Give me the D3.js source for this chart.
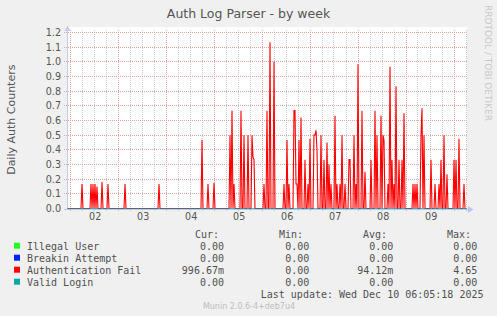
<!DOCTYPE html>
<html><head><meta charset="utf-8">
<script src="https://cdn.jsdelivr.net/npm/d3@7"></script>
<style>
html,body{margin:0;padding:0;background:#f0f0f0;}
svg{display:block;}
</style></head><body>
<svg id="chart" width="497" height="316"></svg>
<script>
const title = "Auth Log Parser - by week";
const yAxisTitle = "Daily Auth Counters";
const watermark = "RRDTOOL / TOBI OETIKER";
const footer = "Munin 2.0.6-4+deb7u4";
const lastUpdate = "Last update: Wed Dec 10 06:05:18 2025";

const seriesNames = ["Illegal User", "Breakin Attempt", "Authentication Fail", "Valid Login"];
const seriesColors = ["#22ff22", "#0022ff", "#ff0000", "#00a8a8"];
const statHeaders = ["Cur:", "Min:", "Avg:", "Max:"];
const statCur = ["0.00", "0.00", "996.67m", "0.00"];
const statMin = ["0.00", "0.00", "0.00", "0.00"];
const statAvg = ["0.00", "0.00", "94.12m", "0.00"];
const statMax = ["0.00", "0.00", "4.65", "0.00"];

const yTickValues = [0, 0.1, 0.2, 0.3, 0.4, 0.5, 0.6, 0.7, 0.8, 0.9, 1.0, 1.1, 1.2];
const yTickLabels = ["0.0", "0.1", "0.2", "0.3", "0.4", "0.5", "0.6", "0.7", "0.8", "0.9", "1.0", "1.1", "1.2"];
const dayTickTimes = ["2025-12-02T12:00:00Z", "2025-12-03T12:00:00Z", "2025-12-04T12:00:00Z", "2025-12-05T12:00:00Z",
                      "2025-12-06T12:00:00Z", "2025-12-07T12:00:00Z", "2025-12-08T12:00:00Z", "2025-12-09T12:00:00Z"];
const dayTickLabels = ["02", "03", "04", "05", "06", "07", "08", "09"];

const windowStart = "2025-12-01T22:30:00Z";
const windowEnd = "2025-12-10T06:30:00Z";
const sampleMinutes = 30;

// Authentication Fail, one value per 30-minute sample from windowStart
const authFail = [
  0,0,0,0,0,0,0,0,0,0,0,0,0,0,0,0.167,0,0,0,0,
  0,0,0,0,0.167,0,0.167,0,0.167,0,0.15,0,0,0,0,0.18,0,0,0,0,
  0,0.167,0,0,0,0,0,0,0,0,0,0,0,0,0,0,0,0,0.167,0,
  0,0,0,0,0,0,0,0,0,0,0,0,0,0,0,0,0,0,0,0,
  0,0,0,0,0,0,0,0,0,0,0,0,0.167,0,0,0,0,0,0,0,
  0,0,0,0,0,0,0,0,0,0,0,0,0,0,0,0,0,0,0,0,
  0,0,0,0,0,0,0,0,0,0,0,0,0,0,0,0.467,0,0,0,0,
  0,0.167,0,0,0,0,0,0.175,0,0,0,0,0,0,0,0,0,0,0,0,
  0,0,0,0.5,0,0.667,0,0.167,0,0,0,0,0,0,0.667,0,0,0.5,0,0,
  0,0.5,0,0,0,0.5,0.35,0.333,0,0,0,0,0,0,0,0,0,0.167,0,0,
  0.667,0,0,1.133,0,0,0,1.0,0,0,0,0,0,0,0,0,0,0.167,0,0,
  0.467,0,0.167,0,0,0,0,0.667,0.667,0.167,0.167,0,0.467,0,0.62,0,0,0,0.333,0,
  0,0.167,0,0.475,0,0,0,0.5,0.5,0.533,0.4,0,0,0,0.5,0,0,0.333,0,0,
  0.45,0,0.3,0,0.167,0,0,0,0.633,0,0.167,0,0,0.167,0,0.5,0,0,0.167,0,
  0,0,0.333,0.333,0,0,0,0.5,0,0.167,0,0.983,0,0,0,0.667,0,0,0.25,0,
  0,0,0,0,0.333,0,0,0,0.667,0,0.5,0,0,0,0.633,0,0.5,0.467,0,0,
  0,0.167,0,0.967,0,0.333,0,0.167,0,0.833,0,0,0.333,0,0,0.333,0,0.65,0,0,
  0,0,0,0,0,0,0.167,0,0.167,0,0.167,0,0,0,0.5,0.683,0,0.5,0,0,
  0,0,0,0,0.333,0,0,0,0.167,0,0,0,0.167,0,0.333,0,0,0.5,0,0,
  0.233,0,0,0,0,0,0,0.333,0,0.333,0,0,0.475,0,0,0,0,0.167,0,0
];
// Zero series: value at window start and window end
const illegalUser = [0, 0];
const breakinAttempt = [0, 0];
const validLogin = [0, 0];

// ---------- drawing ----------
const svg = d3.select("#chart");
const font = "DejaVu Sans, Verdana, sans-serif";
const mono = "DejaVu Sans Mono, monospace";
const plotL = 67, plotR = 467, plotTop = 27, y0px = 208.5, y12px = 32.5;

const t0 = new Date(windowStart), t1 = new Date(windowEnd);
const x = d3.scaleUtc().domain([t0, t1]).range([plotL, plotR]);
const y = d3.scaleLinear().domain([0, 1.2]).range([y0px, y12px]);
const px = v => Math.round(v - 0.5) + 0.5;

svg.append("rect").attr("width", 497).attr("height", 316).attr("fill", "#f0f0f0");
svg.append("rect").attr("x", plotL).attr("y", plotTop).attr("width", plotR - plotL).attr("height", 209 - plotTop).attr("fill", "#ffffff");

// minor vertical grid (6h)
const minor = d3.utcHour.every(6).range(t0, t1).filter(d => d.getUTCHours() !== 0);
svg.append("g").selectAll("line").data(minor).join("line")
  .attr("x1", d => px(x(d))).attr("x2", d => px(x(d)))
  .attr("y1", 30).attr("y2", 211)
  .attr("stroke", "#c9c9c9").attr("stroke-width", 1).attr("stroke-dasharray", "1,1");
// major vertical grid (days)
const major = d3.utcDay.range(t0, t1);
svg.append("g").selectAll("line").data(major).join("line")
  .attr("x1", d => px(x(d))).attr("x2", d => px(x(d)))
  .attr("y1", 30).attr("y2", 212)
  .attr("stroke", "#eba3a3").attr("stroke-width", 1).attr("stroke-dasharray", "1,1");
// horizontal grid
svg.append("g").selectAll("line").data(yTickValues.slice(1)).join("line")
  .attr("x1", 64).attr("x2", plotR)
  .attr("y1", d => px(y(d))).attr("y2", d => px(y(d)))
  .attr("stroke", "#eba3a3").attr("stroke-width", 1).attr("stroke-dasharray", "1,1");

// y axis labels
const yAxis = d3.axisLeft(y).tickValues(yTickValues).tickFormat((d, i) => yTickLabels[i]).tickSize(0).tickPadding(6);
const gy = svg.append("g").attr("transform", `translate(${plotL},0)`).call(yAxis);
gy.select(".domain").remove();
gy.selectAll("text").attr("font-family", font).attr("font-size", 9.6).attr("fill", "#555");

// x axis labels
const xAxis = d3.axisBottom(x).tickValues(dayTickTimes.map(s => new Date(s))).tickFormat((d, i) => dayTickLabels[i]).tickSize(0).tickPadding(4.5);
const gx = svg.append("g").attr("transform", `translate(0.7,209)`).call(xAxis);
gx.select(".domain").remove();
gx.selectAll("text").attr("font-family", font).attr("font-size", 9.6).attr("fill", "#555");

// clip
svg.append("clipPath").attr("id", "plotclip").append("rect")
  .attr("x", plotL).attr("y", plotTop).attr("width", plotR - plotL).attr("height", 209 - plotTop + 1);

// auth fail line
const line = d3.line().x(d => x(d[0])).y(d => y(d[1]));
const authData = authFail.map((v, i) => [new Date(t0.getTime() + i * sampleMinutes * 60000), v]);
svg.append("path").attr("clip-path", "url(#plotclip)")
  .attr("d", line(authData)).attr("fill", "none")
  .attr("stroke", seriesColors[2]).attr("stroke-width", 1.1).attr("stroke-linejoin", "miter");

// axes lines
svg.append("line").attr("x1", plotL + 0.5).attr("x2", plotL + 0.5).attr("y1", 209).attr("y2", 30)
  .attr("stroke", "#c4cbf2").attr("stroke-width", 1);
svg.append("path").attr("d", `M${plotL - 2.5},31 L${plotL + 0.5},25.5 L${plotL + 3.5},31 Z`).attr("fill", "#c4cbf2");

// zero series at baseline
const zeroSeries = [illegalUser, breakinAttempt, validLogin];
const zeroColors = [seriesColors[0], seriesColors[1], seriesColors[3]];
zeroSeries.forEach((s, k) => {
  const pts = [[t0, s[0]], [t1, s[1]]];
  svg.append("path").attr("d", line(pts)).attr("fill", "none")
    .attr("stroke", zeroColors[k]).attr("stroke-width", 1).attr("stroke-opacity", k === 2 ? 0.45 : 0.2);
});
svg.append("line").attr("x1", 64).attr("x2", 469).attr("y1", 209.5).attr("y2", 209.5)
  .attr("stroke", "#b9c9ee").attr("stroke-width", 1);
svg.append("path").attr("d", `M468,206 L473.5,209.5 L468,213 Z`).attr("fill", "#b9c6f4");

// title
svg.append("text").attr("x", 248.5).attr("y", 18).attr("text-anchor", "middle")
  .attr("font-family", font).attr("font-size", 12.5).attr("fill", "#555").text(title);
// y axis title
svg.append("text").attr("transform", "translate(14.5,119.7) rotate(-90)").attr("text-anchor", "middle")
  .attr("font-family", font).attr("font-size", 11).attr("fill", "#555").text(yAxisTitle);
// watermark
svg.append("text").attr("transform", "translate(485,5) rotate(90)").attr("text-anchor", "start")
  .attr("font-family", font).attr("font-size", 9).attr("fill", "#c8c8c8").text(watermark);

// legend
const statCols = [statCur, statMin, statAvg, statMax];
const headerX = [195, 279, 363, 447];
const valueRight = [224, 309.3, 393.3, 477.3];
const lg = svg.append("g").attr("font-family", mono).attr("font-size", 10).attr("fill", "#505050");
statHeaders.forEach((h, j) => lg.append("text").attr("x", headerX[j]).attr("y", 237.5).text(h));
const rowY = [249.5, 261.5, 273.5, 285.5];
seriesNames.forEach((n, i) => {
  lg.append("rect").attr("x", 14).attr("y", rowY[i] - 6.8).attr("width", 6).attr("height", 6).attr("fill", seriesColors[i]);
  lg.append("text").attr("x", 27).attr("y", rowY[i]).text(n);
  statCols.forEach((col, j) => lg.append("text").attr("x", valueRight[j]).attr("y", rowY[i]).attr("text-anchor", "end").text(col[i]));
});
lg.append("text").attr("x", 483.5).attr("y", 297.5).attr("text-anchor", "end").text(lastUpdate);
svg.append("text").attr("x", 249).attr("y", 309).attr("text-anchor", "middle")
  .attr("font-family", font).attr("font-size", 8).attr("fill", "#bdbdbd").text(footer);
</script>
</body></html>
